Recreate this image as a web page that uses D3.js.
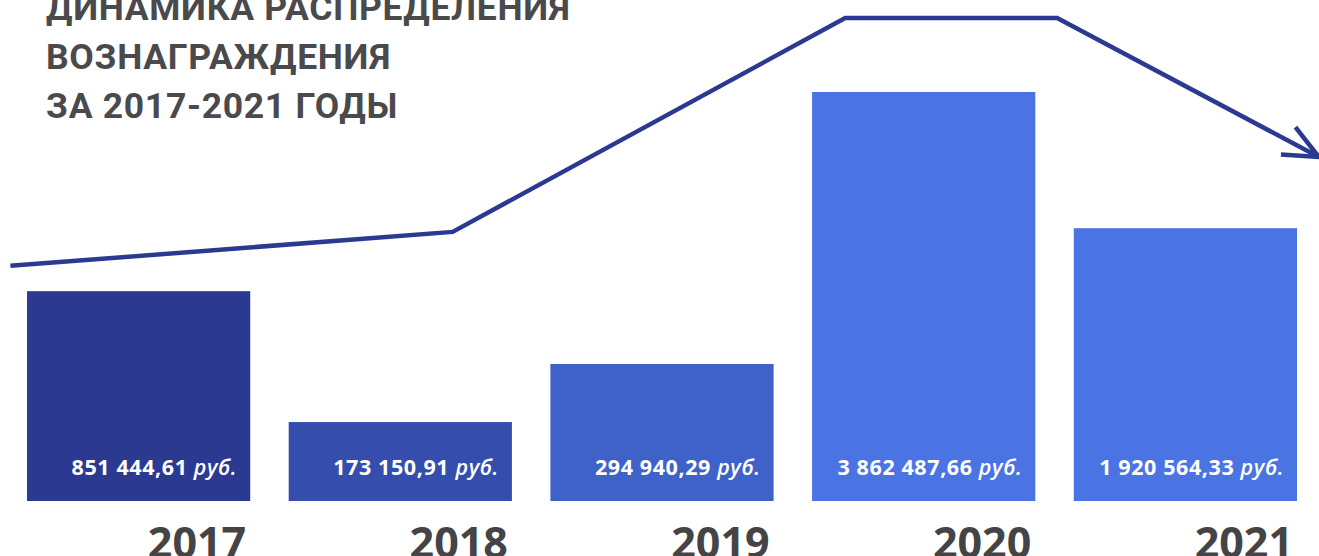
<!DOCTYPE html>
<html><head><meta charset="utf-8">
<script src="https://cdn.jsdelivr.net/npm/d3@7/dist/d3.min.js"></script>
<style>html,body{margin:0;padding:0;background:#fff;overflow:hidden}</style>
</head><body><svg id="c" width="1319" height="556"></svg>
<script>
// Data
const years = [2017, 2018, 2019, 2020, 2021];
const amounts = [851444.61, 173150.91, 294940.29, 3862487.66, 1920564.33];
// Visual bar level (index, 2020 = 100) as drawn in the picture
const barLevels = [51.3, 19.3, 33.5, 100, 66.7];
const barColors = ["#2b3991", "#354eae", "#3f62c9", "#4a74e3", "#4a74e3"];
// Decorative trend arrow: positions in year units, levels on the same index
const trendYears = [2016.51, 2018.2, 2019.7, 2020.51, 2021.51];
const trendLevels = [57.5, 65.8, 118.1, 118.1, 84.1];
const titleLines = ["ДИНАМИКА РАСПРЕДЕЛЕНИЯ", "ВОЗНАГРАЖДЕНИЯ", "ЗА 2017-2021 ГОДЫ"];
const unit = "руб.";

const svg = d3.select("#c");
const x = d3.scaleBand().domain(years).range([27, 1297]).paddingInner(0.147).paddingOuter(0);
const y = d3.scaleLinear().domain([0, 100]).range([501, 92]);
const xc = d3.scaleLinear().domain([years[0], years[years.length-1]])
  .range([x(years[0]) + x.bandwidth()/2, x(years[years.length-1]) + x.bandwidth()/2]);

const loc = d3.formatLocale({decimal: ",", thousands: " ", grouping: [3], currency: ["", ""]});
const fmt = loc.format(",.2f");

// Title
const title = svg.append("g");
titleLines.forEach((t, i) => {
  title.append("text").attr("x", 46).attr("y", 20 + i * 49)
    .attr("font-family", "Roboto").attr("font-weight", 700).attr("font-size", 35.5)
    .attr("letter-spacing", 0.7)
    .attr("fill", "#4a4a4c").text(t);
});

// Bars
svg.append("g").selectAll("rect").data(years).join("rect")
  .attr("x", d => x(d)).attr("width", x.bandwidth())
  .attr("y", (d, i) => y(barLevels[i]))
  .attr("height", (d, i) => y(0) - y(barLevels[i]))
  .attr("fill", (d, i) => barColors[i]);

// Value labels
const lab = svg.append("g").selectAll("text").data(years).join("text")
  .attr("x", d => x(d) + x.bandwidth() - 13).attr("y", 475)
  .attr("text-anchor", "end").attr("fill", "#fff")
  .attr("font-family", "Open Sans").attr("font-weight", 700).attr("font-size", 21.5)
  .attr("letter-spacing", 0.6);
lab.append("tspan").text((d, i) => fmt(amounts[i]) + " ");
lab.append("tspan").attr("font-style", "italic").attr("font-weight", 600).text(unit);

// Year labels
svg.append("g").selectAll("text").data(years).join("text")
  .attr("x", d => x(d) + x.bandwidth() - 4).attr("y", 558)
  .attr("text-anchor", "end").attr("fill", "#444446")
  .attr("font-family", "Open Sans").attr("font-weight", 700).attr("font-size", 43)
  .text(d => d);

// Trend line with arrow
const pts = trendYears.map((t, i) => [xc(t), y(trendLevels[i])]);
svg.append("path").attr("d", d3.line()(pts))
  .attr("fill", "none").attr("stroke", "#2b3991").attr("stroke-width", 4.5)
  .attr("stroke-linejoin", "miter");
const tip = pts[pts.length - 1], prev = pts[pts.length - 2];
const ang = Math.atan2(tip[1] - prev[1], tip[0] - prev[0]);
const len = 38, spread = 24 * Math.PI / 180;
const wing = s => [tip[0] - len * Math.cos(ang + s), tip[1] - len * Math.sin(ang + s)];
svg.append("path").attr("d", d3.line()([wing(spread), tip, wing(-spread)]))
  .attr("fill", "none").attr("stroke", "#2b3991").attr("stroke-width", 4.5)
  .attr("stroke-linejoin", "miter");
</script></body></html>
